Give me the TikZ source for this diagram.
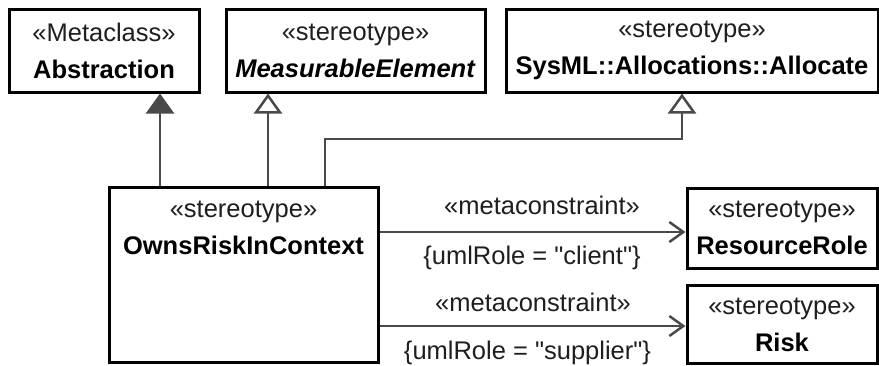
\documentclass[tikz,border=0pt]{standalone}
\usepackage{fontspec}
\setmainfont{Liberation Sans}[Ligatures=TeXOff]
\usetikzlibrary{arrows.meta}
\definecolor{conn}{HTML}{4A4A4A}
\definecolor{stereo}{HTML}{1E1E1E}
\tikzset{
  umlbox/.style={draw=black, line width=1.5pt, fill=white, rectangle, inner sep=0pt},
  boxtext/.style={align=center, inner sep=0pt, font=\fontsize{12.75}{18.5}\selectfont, text=black},
  conntext/.style={inner sep=0pt, font=\fontsize{12.75}{15}\selectfont, text=stereo},
  connline/.style={draw=conn, line width=1.25pt},
  genfilled/.style={connline, -{Triangle[length=10pt, width=14pt, fill=conn]}},
  genopen/.style={connline, -{Triangle[length=10pt, width=14pt, open, fill=white]}},
  depend/.style={connline, -{Straight Barb[length=7pt, width=10pt, line width=1.25pt]}}
}
\begin{document}
\begin{tikzpicture}[x=0.5pt, y=-0.5pt]
\useasboundingbox (0,0) rectangle (879,365);
% boxes
\node[umlbox, minimum width=95pt, minimum height=41.5pt] (abs) at (104,50.5) {};
\node[boxtext] (abst) at (abs.center) {{\color{stereo}«Metaclass»}\\\textbf{Abstraction}};
\node[umlbox, minimum width=129.5pt, minimum height=41.5pt] (meas) at (355.5,50.5) {};
\node[boxtext] (meast) at (meas.center) {{\color{stereo}«stereotype»}\\\textbf{\itshape MeasurableElement}};
\node[umlbox, minimum width=186pt, minimum height=41.5pt] (alloc) at (692,50.5) {};
\node[boxtext] (allot) at (alloc.center) {{\color{stereo}«stereotype»}\\\textbf{SysML::Allocations::Allocate}};
\node[umlbox, minimum width=134.5pt, minimum height=87.5pt] (owns) at (243.5,274.5) {};
\node[boxtext] (ownst) at (243.5,228) {{\color{stereo}«stereotype»}\\\textbf{OwnsRiskInContext}};
\node[umlbox, minimum width=95pt, minimum height=40pt] (rr) at (782,228) {};
\node[boxtext] (rrt) at (rr.center) {{\color{stereo}«stereotype»}\\\textbf{ResourceRole}};
\node[umlbox, minimum width=95pt, minimum height=39pt] (risk) at (782,324) {};
\node[boxtext] (riskt) at (782,324.5) {{\color{stereo}«stereotype»}\\\textbf{Risk}};
% connector helper coordinates
\coordinate (a1) at (160,0);
\coordinate (m1) at (268,0);
\coordinate (c1) at (325,139);
\coordinate (c2) at (682,139);
\coordinate (r1) at (0,232);
\coordinate (r2) at (0,326);
% generalizations
\draw[genfilled] (owns.north -| a1) -- (abs.south -| a1);
\draw[genopen] (owns.north -| m1) -- (meas.south -| m1);
\draw[genopen] (owns.north -| c1) -- (c1) -- (c2) -- (alloc.south -| c2);
% metaconstraints
\draw[depend] (owns.east |- r1) -- (rr.west |- r1);
\draw[depend] (owns.east |- r2) -- (risk.west |- r2);
\node[conntext] (mc1) at (542,205) {«metaconstraint»};
\node[conntext] (cl1) at (532,258) {\{umlRole = "client"\}};
\node[conntext] (mc2) at (533,302) {«metaconstraint»};
\node[conntext] (cl2) at (527.5,353) {\{umlRole = "supplier"\}};
\end{tikzpicture}
\end{document}
